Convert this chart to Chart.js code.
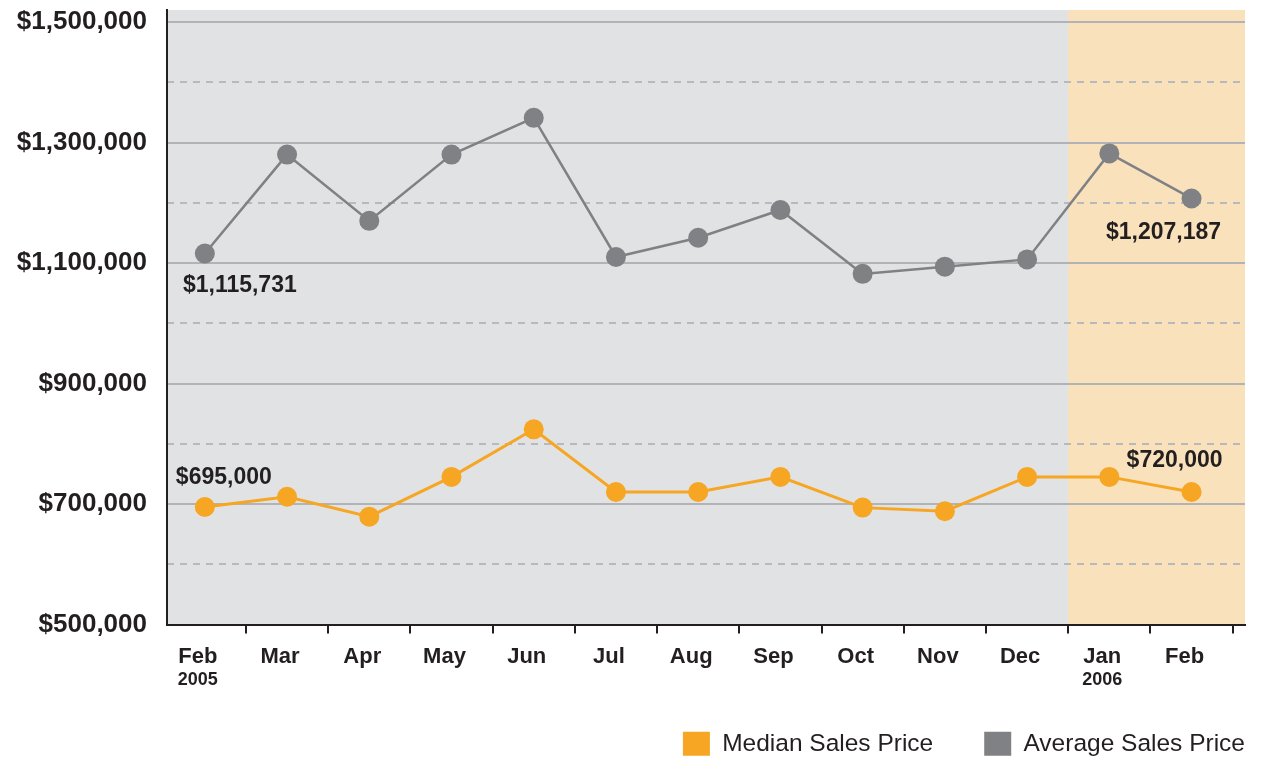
<!DOCTYPE html>
<html>
<head>
<meta charset="utf-8">
<title>Median and Average Sales Price</title>
<script src="https://cdn.jsdelivr.net/npm/chart.js@4.4.1/dist/chart.umd.min.js"></script>
<style>
  html, body { margin: 0; padding: 0; background: #fff; }
  #wrap { width: 1262px; height: 759px; }
</style>
</head>
<body>
<div id="wrap"><canvas id="priceChart"></canvas></div>
<script>
const monthLabels = ["Feb", "Mar", "Apr", "May", "Jun", "Jul", "Aug", "Sep", "Oct", "Nov", "Dec", "Jan", "Feb"];
const yearLabels = ["2005", "2006"];
const yearIndexes = [0, 11];
const medianPrices = [695000, 712000, 679000, 745000, 824000, 720000, 720000, 745000, 694000, 688000, 745000, 745000, 720000];
const averagePrices = [1115731, 1280000, 1170000, 1280000, 1341000, 1110000, 1142000, 1188000, 1082000, 1094000, 1106000, 1282000, 1207187];
const labeledTicks = [500000, 700000, 900000, 1100000, 1300000, 1500000];
const dashedTicks = [600000, 800000, 1000000, 1200000, 1400000];
const highlightFrom = 10.5; // Jan 2006 onwards is shaded

const textColor = "#231f20";
const orange = "#f6a623";
const grey = "#808184";
const fontFamily = "'Liberation Sans', Arial, Helvetica, sans-serif";

Chart.defaults.font.family = fontFamily;
Chart.defaults.color = textColor;

function formatPrice(value) {
  return "$" + value.toLocaleString("en-US");
}

// bottom axes are packed tightly, so let their labels spill past the box
function fitBottomAxis(scale, height) {
  scale.height = height;
  scale.paddingLeft = 0;
  scale.paddingRight = 0;
  scale._computeLabelArea = () => undefined;
}

// grey plot area with the shaded 2006 band
const plotBackground = {
  id: "plotBackground",
  beforeDraw(chart) {
    const { ctx, chartArea: area, scales } = chart;
    const bandLeft = scales.x.getPixelForValue(highlightFrom);
    ctx.save();
    ctx.fillStyle = "#e1e2e4";
    ctx.fillRect(area.left, area.top, area.width, area.height);
    ctx.fillStyle = "#f8e1bb";
    ctx.fillRect(bandLeft, area.top, area.right - bandLeft, area.height);
    ctx.restore();
  }
};

// value labels on the first and last point of each line
const callouts = [
  { dataset: 0, index: 0, dx: 19, dy: -29 },
  { dataset: 0, index: 12, dx: -17, dy: -31 },
  { dataset: 1, index: 0, dx: 35, dy: 32 },
  { dataset: 1, index: 12, dx: -28, dy: 34 }
];

const pointCallouts = {
  id: "pointCallouts",
  afterDatasetsDraw(chart) {
    const ctx = chart.ctx;
    ctx.save();
    ctx.font = "bold 23px " + fontFamily;
    ctx.fillStyle = textColor;
    ctx.textAlign = "center";
    ctx.textBaseline = "middle";
    callouts.forEach(c => {
      const point = chart.getDatasetMeta(c.dataset).data[c.index];
      const value = chart.data.datasets[c.dataset].data[c.index].y;
      ctx.fillText(formatPrice(value), point.x + c.dx, point.y + c.dy);
    });
    ctx.restore();
  }
};

function toPoints(values) {
  return values.map((v, i) => ({ x: i, y: v }));
}

new Chart(document.getElementById("priceChart"), {
  type: "line",
  data: {
    datasets: [
      {
        label: "Median Sales Price",
        data: toPoints(medianPrices),
        borderColor: orange,
        backgroundColor: orange,
        borderWidth: 3,
        pointRadius: 10,
        pointBorderWidth: 0,
        pointBackgroundColor: orange,
        tension: 0
      },
      {
        label: "Average Sales Price",
        data: toPoints(averagePrices),
        borderColor: grey,
        backgroundColor: grey,
        borderWidth: 2.5,
        pointRadius: 10,
        pointBorderWidth: 0,
        pointBackgroundColor: grey,
        tension: 0
      }
    ]
  },
  options: {
    responsive: true,
    maintainAspectRatio: false,
    animation: false,
    layout: { padding: { left: 0, right: -34, top: 8, bottom: -7 } },
    plugins: {
      tooltip: { enabled: false },
      legend: {
        position: "bottom",
        align: "end",
        labels: {
          boxWidth: 27,
          boxHeight: 24,
          padding: 51,
          color: textColor,
          font: { size: 24.5 },
          generateLabels: chart =>
            Chart.defaults.plugins.legend.labels.generateLabels(chart).map(item => ({ ...item, lineWidth: 0 }))
        }
      }
    },
    scales: {
      x: {
        type: "linear",
        position: "bottom",
        weight: 0,
        min: -0.46,
        max: 12.65,
        afterBuildTicks: scale => { scale.ticks = monthLabels.map((m, i) => ({ value: i })); },
        afterFit: scale => fitBottomAxis(scale, 40),
        grid: { offset: true, drawOnChartArea: false, drawTicks: true, tickLength: 9, color: textColor, lineWidth: 2 },
        border: { display: true, color: textColor, width: 2 },
        ticks: {
          callback: (value, index) => monthLabels[index],
          font: { size: 22, weight: "bold" },
          color: textColor,
          padding: 10,
          labelOffset: -7,
          autoSkip: false,
          maxRotation: 0
        }
      },
      xYear: {
        type: "linear",
        position: "bottom",
        weight: 1,
        min: -0.46,
        max: 12.65,
        afterBuildTicks: scale => { scale.ticks = yearIndexes.map(i => ({ value: i })); },
        afterFit: scale => fitBottomAxis(scale, 16),
        grid: { display: false },
        border: { display: false },
        ticks: {
          callback: (value, index) => yearLabels[index],
          font: { size: 18, weight: "bold" },
          color: textColor,
          padding: -3,
          labelOffset: -7,
          autoSkip: false,
          maxRotation: 0
        }
      },
      y: {
        type: "linear",
        position: "left",
        min: 500000,
        max: 1520000,
        afterBuildTicks: scale => { scale.ticks = labeledTicks.map(v => ({ value: v })); },
        afterFit: scale => { scale.width = 167; scale.paddingTop = 0; scale.paddingBottom = 0; },
        grid: {
          color: ctx => (ctx.tick && ctx.tick.value === labeledTicks[0] ? "rgba(0,0,0,0)" : "#b1b3b6"),
          lineWidth: 2,
          drawTicks: false
        },
        border: { display: true, color: textColor, width: 2 },
        ticks: {
          callback: value => formatPrice(value),
          font: { size: 26, weight: "bold" },
          color: textColor,
          padding: 20
        }
      },
      y2: {
        type: "linear",
        position: "right",
        min: 500000,
        max: 1520000,
        afterBuildTicks: scale => { scale.ticks = dashedTicks.map(v => ({ value: v })); },
        afterFit: scale => { scale.width = 51; scale.paddingTop = 0; scale.paddingBottom = 0; },
        grid: { color: "#b8b9bc", lineWidth: 2, drawTicks: false },
        border: { display: false, dash: [7, 6] },
        ticks: { display: false }
      }
    }
  },
  plugins: [plotBackground, pointCallouts]
});
</script>
</body>
</html>
